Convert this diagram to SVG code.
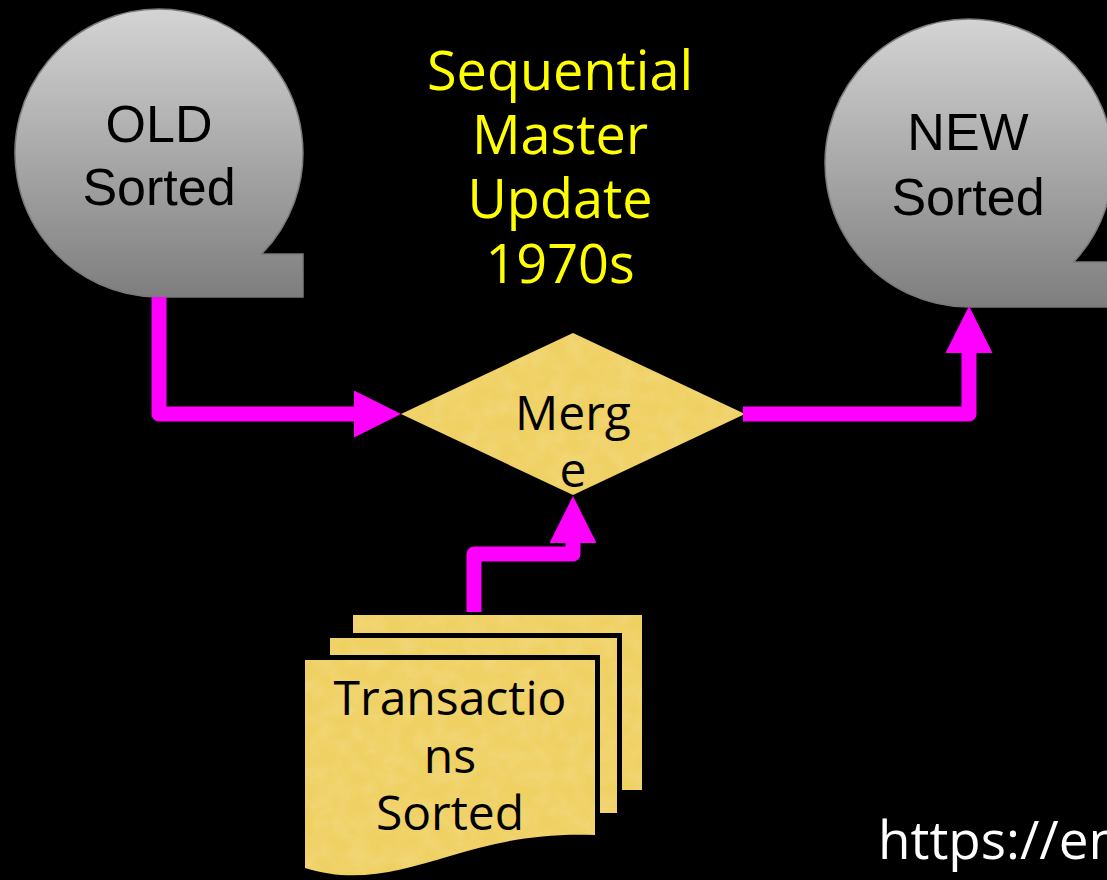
<svg xmlns="http://www.w3.org/2000/svg" width="1107" height="880" viewBox="0 0 1107 880">
  <defs>
    <style>
      .disk { fill: url(#diskShade); stroke: #7a7a7a; stroke-width: 1.5; }
      .disk-label { font-family: "Liberation Sans", Arial, sans-serif; font-size: 52px; fill: #000; text-anchor: middle; }
      .title { font-family: "Open Sans", "Noto Sans", sans-serif; font-size: 54px; fill: #ffff00; text-anchor: middle; }
      .paper { fill: #efd062; filter: url(#mottle); }
      .edge { fill: none; stroke: #000; stroke-width: 10; stroke-linejoin: miter; }
      .label { font-family: "Open Sans", "Noto Sans", sans-serif; font-size: 48px; fill: #000; text-anchor: middle; }
      .flow { fill: none; stroke: #ff00ff; stroke-width: 15; stroke-linejoin: round; stroke-linecap: butt; marker-end: url(#head); }
      .link { font-family: "Open Sans", "Noto Sans", sans-serif; font-size: 53px; fill: #fff; }
    </style>
    <linearGradient id="diskShade" x1="0" y1="0" x2="0" y2="1">
      <stop offset="0" stop-color="#d4d4d4"/>
      <stop offset="1" stop-color="#7e7e7e"/>
    </linearGradient>
    <!-- faint mottling for the parchment-coloured shapes -->
    <filter id="mottle" x="0" y="0" width="100%" height="100%">
      <feTurbulence type="fractalNoise" baseFrequency="0.06" numOctaves="3" seed="7" result="noise"/>
      <feColorMatrix in="noise" type="matrix" values="0 0 0 0 1  0 0 0 0 0.9  0 0 0 0 0.5  0.3 0 0 0 -0.1" result="spots"/>
      <feComposite in="spots" in2="SourceAlpha" operator="in" result="clipped"/>
      <feComposite in="clipped" in2="SourceGraphic" operator="over"/>
    </filter>
    <marker id="head" viewBox="0 0 47 47" refX="0" refY="23.5" markerWidth="47" markerHeight="47" markerUnits="userSpaceOnUse" orient="auto">
      <path d="M0,0 L47,23.5 L0,47 Z" fill="#ff00ff"/>
    </marker>
  </defs>

  <rect x="0" y="0" width="1107" height="880" fill="#000"/>

  <!-- title -->
  <g id="title">
    <text class="title" x="560" y="90">Sequential</text>
    <text class="title" x="560" y="154">Master</text>
    <text class="title" x="560" y="218">Update</text>
    <text class="title" x="560" y="283">1970s</text>
  </g>

  <!-- old master file (sequential storage) -->
  <g id="old-master">
    <path class="disk" d="M159,297 A144,144 0 1 1 261.6,254 H303 V297 Z"/>
    <text class="disk-label" x="159" y="142">OLD</text>
    <text class="disk-label" x="159" y="205">Sorted</text>
  </g>

  <!-- new master file (sequential storage) -->
  <g id="new-master">
    <path class="disk" d="M969,307 A144,144 0 1 1 1073.6,262 H1113 V307 Z"/>
    <text class="disk-label" x="968" y="150">NEW</text>
    <text class="disk-label" x="968" y="215">Sorted</text>
  </g>

  <!-- merge decision -->
  <g id="merge">
    <path class="paper" d="M573,333 L745,414 L573,495 L401,414 Z"/>
    <text class="label" x="573" y="430">Merg</text>
    <text class="label" x="573" y="487">e</text>
  </g>

  <!-- transaction file: stack of documents -->
  <g id="transactions">
    <path class="edge" d="M353,615 H642 V790 H353 Z"/>
    <path class="paper" d="M353,615 H642 V790 H353 Z"/>
    <path class="edge" d="M330,638 H617 V813 H330 Z"/>
    <path class="paper" d="M330,638 H617 V813 H330 Z"/>
    <path class="edge" d="M305,660 H595 V835 C540,833 500,841 450,856 C400,871 355,884 305,868 Z"/>
    <path class="paper" d="M305,660 H595 V835 C540,833 500,841 450,856 C400,871 355,884 305,868 Z"/>
    <text class="label" x="450" y="715">Transactio</text>
    <text class="label" x="450" y="773">ns</text>
    <text class="label" x="450" y="830">Sorted</text>
  </g>

  <!-- data flow -->
  <g id="connectors">
    <path class="flow" d="M159,297 V414 H354"/>
    <path class="flow" d="M743,414 H969 V353"/>
    <path class="flow" d="M474,612 V554 H573 V543"/>
  </g>

  <text class="link" x="878" y="859">https://en</text>
</svg>
